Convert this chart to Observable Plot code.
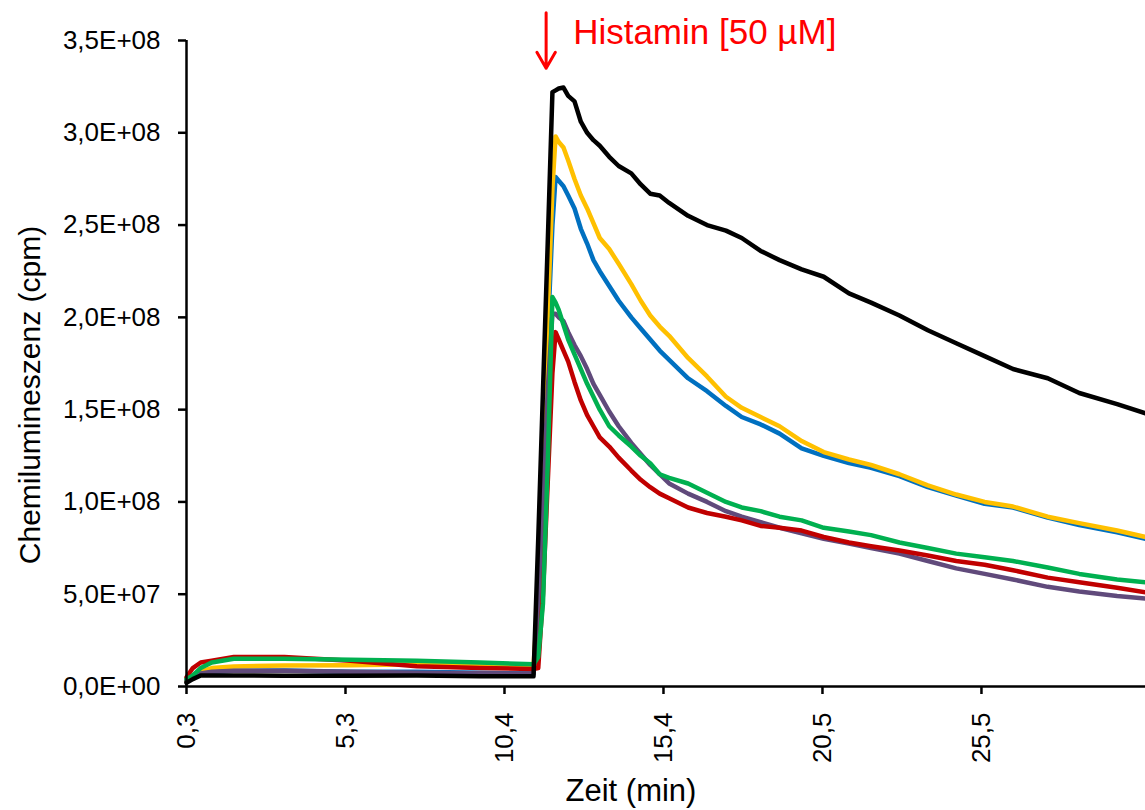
<!DOCTYPE html>
<html>
<head>
<meta charset="utf-8">
<script src="https://cdn.jsdelivr.net/npm/d3@7"></script>
<script src="https://cdn.jsdelivr.net/npm/@observablehq/plot@0.6"></script>
<style>
  html, body { margin: 0; padding: 0; background: #fff; }
  #chart { width: 1145px; height: 810px; }
</style>
</head>
<body>
<div id="chart"></div>
<script>
// Time (min) at which the curves were read
const times = [0.3, 0.5, 0.75, 1.1, 1.8, 3.4, 5.5, 7.6, 9.6, 11.3,
  11.45, 11.6, 11.75, 11.9, 12.0, 12.1, 12.25, 12.4, 12.6, 12.8,
  13.0, 13.2, 13.4, 13.7, 14.0, 14.4, 14.7, 15.0, 15.3, 15.6,
  16.2, 16.8, 17.4, 17.9, 18.5, 19.1, 19.8, 20.5, 21.3, 22.0,
  22.9, 23.8, 24.7, 25.6, 26.5, 27.6, 28.6, 29.8, 30.7];

// Chemiluminescence in units of 1E+08 cpm
const blackVals = [0.02,0.04,0.06,0.06,0.06,0.058,0.058,0.06,0.055,0.055,
  0.8,1.6,2.4,3.22,3.23,3.24,3.245,3.2,3.17,3.06,
  3.0,2.96,2.93,2.87,2.82,2.78,2.72,2.67,2.66,2.62,
  2.55,2.5,2.47,2.43,2.36,2.31,2.26,2.22,2.13,2.08,
  2.01,1.93,1.86,1.79,1.72,1.67,1.59,1.53,1.48];
const yellowVals = [0.03,0.06,0.08,0.1,0.108,0.114,0.115,0.12,0.115,0.11,
  0.5,1.2,2.0,2.7,2.98,2.95,2.92,2.85,2.75,2.66,
  2.59,2.51,2.43,2.37,2.29,2.18,2.09,2.01,1.95,1.9,
  1.78,1.68,1.57,1.51,1.46,1.41,1.33,1.27,1.23,1.2,
  1.15,1.09,1.04,1.0,0.975,0.92,0.885,0.845,0.81];
const blueVals = [0.03,0.05,0.07,0.08,0.085,0.087,0.08,0.08,0.075,0.07,
  0.5,1.2,1.9,2.5,2.76,2.74,2.71,2.66,2.59,2.48,
  2.4,2.31,2.25,2.17,2.09,2.0,1.94,1.88,1.82,1.77,
  1.67,1.6,1.52,1.46,1.42,1.37,1.29,1.25,1.21,1.185,
  1.14,1.08,1.035,0.99,0.97,0.915,0.875,0.835,0.8];
const greenVals = [0.04,0.06,0.1,0.13,0.15,0.15,0.145,0.14,0.13,0.12,
  0.16,0.45,1.2,2.11,2.08,2.04,1.96,1.88,1.8,1.72,
  1.64,1.57,1.5,1.41,1.36,1.3,1.25,1.21,1.15,1.13,
  1.1,1.05,1.0,0.97,0.95,0.92,0.9,0.86,0.84,0.82,
  0.78,0.75,0.72,0.7,0.68,0.645,0.61,0.58,0.565];
const purpleVals = [0.03,0.05,0.07,0.08,0.085,0.085,0.08,0.075,0.072,0.07,
  0.4,1.0,1.6,2.02,2.02,2.0,1.98,1.92,1.85,1.79,
  1.72,1.64,1.58,1.49,1.41,1.32,1.26,1.2,1.15,1.1,
  1.045,1.0,0.95,0.92,0.89,0.86,0.83,0.8,0.775,0.75,
  0.72,0.68,0.64,0.61,0.58,0.54,0.515,0.49,0.477];
const redVals = [0.05,0.1,0.13,0.14,0.16,0.16,0.14,0.11,0.1,0.095,
  0.1,0.5,1.1,1.7,1.92,1.88,1.82,1.76,1.65,1.55,
  1.47,1.41,1.35,1.3,1.24,1.17,1.12,1.08,1.045,1.02,
  0.97,0.94,0.92,0.9,0.87,0.86,0.845,0.81,0.78,0.76,
  0.737,0.71,0.68,0.66,0.63,0.59,0.565,0.535,0.51];

// drawing order (last on top) and colours
const seriesNames  = ["Serie B", "Serie Y", "Serie P", "Serie R", "Serie G", "Serie K"];
const seriesValues = [blueVals, yellowVals, purpleVals, redVals, greenVals, blackVals];
const seriesColors = ["#0070C0", "#FFC000", "#604A7B", "#C00000", "#00B050", "#000000"];

const xTicks = [0.3, 5.34, 10.38, 15.42, 20.46, 25.5];
const xTickLabels = ["0,3", "5,3", "10,4", "15,4", "20,5", "25,5"];
const yTicks = [0, 5e7, 1e8, 1.5e8, 2e8, 2.5e8, 3e8, 3.5e8];

const annotation = [{x: 11.7, yTop: 3.65e8, yTip: 3.35e8, yText: 3.54e8, label: "Histamin [50 µM]"}];

const unit = 1e8;
const rows = [];
seriesNames.forEach((name, k) => {
  seriesValues[k].forEach((v, i) => rows.push({t: times[i], v: v * unit, s: name}));
});

function sci(v) {
  if (v === 0) return "0,0E+00";
  const e = Math.floor(Math.log10(v) + 1e-9);
  const m = (v / Math.pow(10, e)).toFixed(1).replace(".", ",");
  return m + "E+" + String(e).padStart(2, "0");
}

const font = "'Liberation Sans', Arial, sans-serif";

const plot = Plot.plot({
  width: 1145,
  height: 810,
  marginLeft: 186,
  marginRight: 0,
  marginTop: 40,
  marginBottom: 124,
  style: {fontFamily: font, background: "#fff", color: "#000"},
  x: {domain: [0.3, 30.7]},
  y: {domain: [0, 3.5e8]},
  color: {domain: seriesNames, range: seriesColors},
  marks: [
    Plot.lineY(rows, {x: "t", y: "v", z: "s", stroke: "s", strokeWidth: 4.5, strokeLinejoin: "round"}),
    Plot.ruleX([0.3], {stroke: "#000", strokeWidth: 2.5}),
    Plot.ruleY([0], {stroke: "#000", strokeWidth: 2.5}),
    Plot.axisY(yTicks, {
      tickSize: 8, tickPadding: 18, strokeWidth: 2.5, label: null,
      tickFormat: sci, fontSize: 26, fontFamily: font, fill: "#000"
    }),
    Plot.axisX(xTicks, {
      tickSize: 8, tickPadding: 18, strokeWidth: 2.5, label: null, tickRotate: -90,
      tickFormat: (d, i) => xTickLabels[i], fontSize: 26, fontFamily: font, fill: "#000"
    }),
    Plot.arrow(annotation, {x1: "x", y1: "yTop", x2: "x", y2: "yTip", stroke: "#FF0000", strokeWidth: 3, headLength: 20, headAngle: 60}),
    Plot.text(annotation, {x: "x", y: "yText", text: "label", dx: 27, textAnchor: "start", lineAnchor: "middle", fill: "#FF0000", fontSize: 35, fontFamily: font})
  ]
});

const svg = d3.select(plot);
svg.append("text")
  .attr("transform", "translate(40,395) rotate(-90)")
  .attr("text-anchor", "middle")
  .attr("font-size", 30)
  .attr("font-family", font)
  .attr("fill", "#000")
  .text("Chemilumineszenz (cpm)");
svg.append("text")
  .attr("x", 631)
  .attr("y", 801)
  .attr("text-anchor", "middle")
  .attr("font-size", 31)
  .attr("font-family", font)
  .attr("fill", "#000")
  .text("Zeit (min)");

document.getElementById("chart").appendChild(plot);
</script>
</body>
</html>
